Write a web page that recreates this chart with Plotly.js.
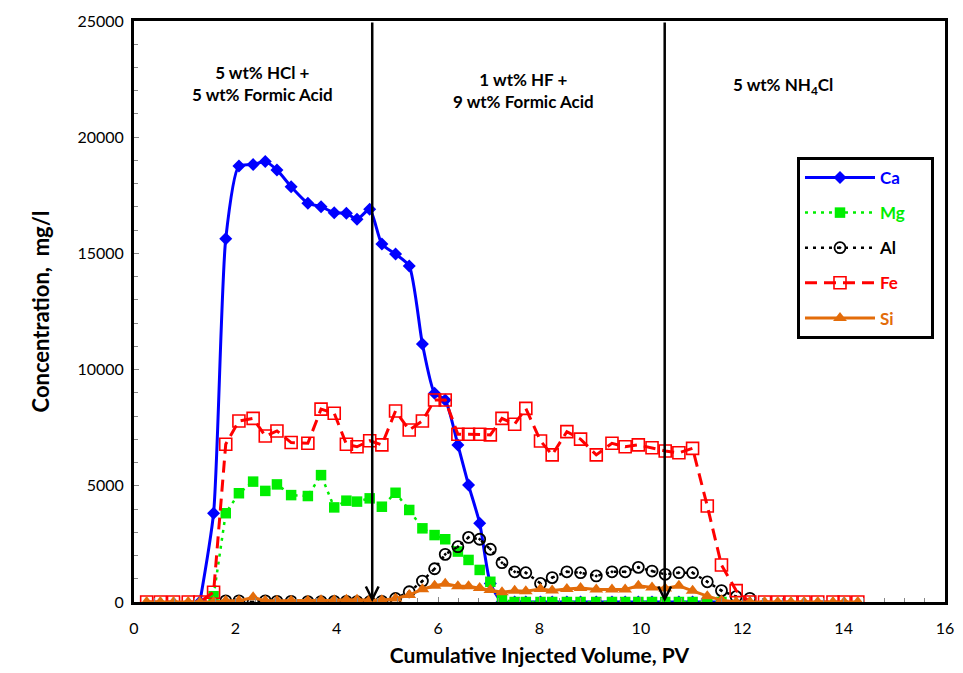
<!DOCTYPE html>
<html>
<head>
<meta charset="utf-8">
<script src="https://cdn.plot.ly/plotly-3.0.1.min.js"></script>
<style>
  html, body { margin: 0; padding: 0; background: #ffffff; }
  #chart { width: 963px; height: 673px; }
</style>
</head>
<body>
<div id="chart"></div>
<script>
// Cumulative injected volume (PV) at each sample
const pv = [0.25, 0.52, 0.78, 1.07, 1.3, 1.57, 1.81, 2.07, 2.35, 2.59, 2.82, 3.10, 3.43, 3.69, 3.95, 4.19, 4.40, 4.65, 4.89, 5.16, 5.43, 5.69, 5.93, 6.14, 6.39, 6.60, 6.82, 7.03, 7.26, 7.51, 7.73, 8.02, 8.25, 8.54, 8.81, 9.12, 9.43, 9.69, 9.95, 10.22, 10.48, 10.75, 11.02, 11.31, 11.59, 11.88, 12.15, 12.44, 12.70, 12.96, 13.22, 13.49, 13.79, 14.01, 14.28];

// Concentrations, mg/l
const ca = [null, null, null, null, 0, 3820, 15630, 18760, 18820, 18950, 18590, 17870, 17160, 17010, 16750, 16730, 16470, 16900, 15400, 14970, 14460, 11100, 8980, 8690, 6760, 5030, 3390, 800, 0, 0, 0, 0, 0, 0, 0, 0, 0, 0, 0, 0, 0, 0, 0, 0, 0, null, null, null, null, null, null, null, null, null, null];
const mg = [null, null, null, null, null, 250, 3820, 4680, 5180, 4780, 5060, 4600, 4560, 5460, 4070, 4360, 4320, 4460, 4100, 4700, 3960, 3170, 2880, 2700, 2170, 1810, 1380, 870, 100, 0, 0, 0, 0, 0, 0, 0, 0, 0, 0, 0, 0, 0, 0, 0, 0, null, null, null, null, null, null, null, null, null, null];
const al = [null, null, null, null, null, null, 50, 50, 0, 50, 30, 30, 20, 20, 30, 30, 20, 10, 30, 150, 440, 900, 1430, 2050, 2380, 2780, 2700, 2270, 1690, 1300, 1260, 800, 1050, 1300, 1260, 1120, 1300, 1300, 1490, 1330, 1190, 1260, 1260, 870, 490, 230, 160, null, null, null, null, null, null, null, null];
const fe = [0, 0, 0, 0, 0, 420, 6790, 7790, 7900, 7140, 7360, 6860, 6830, 8300, 8120, 6790, 6680, 6940, 6760, 8220, 7400, 7790, 8690, 8690, 7220, 7220, 7220, 7190, 7900, 7650, 8330, 6930, 6330, 7330, 7010, 6330, 6830, 6680, 6760, 6640, 6500, 6420, 6610, 4130, 1590, 490, 0, 0, 0, 0, 0, 0, 0, 0, 0];
const si = [0, 0, 0, 0, 0, 0, 50, 50, 200, 50, 50, 50, 50, 80, 80, 100, 100, 100, 80, 150, 300, 550, 700, 780, 680, 680, 600, 520, 420, 480, 460, 560, 500, 560, 600, 540, 540, 540, 700, 620, 580, 700, 480, 250, 80, 0, 0, 0, 0, 0, 0, 0, 0, 0, 0];

const seriesNames = ['Ca', 'Mg', 'Al', 'Fe', 'Si'];

// Injection stages and their boundaries (PV)
const stageLabels = ['5 wt% HCl +<br>5 wt% Formic Acid', '1 wt% HF +<br>9 wt% Formic Acid', '5 wt% NH<sub>4</sub>Cl'];
const stageBoundaries = [4.7, 10.47];

const xTicks = [0, 2, 4, 6, 8, 10, 12, 14, 16];
const yTicks = [0, 5000, 10000, 15000, 20000, 25000];

const colors = { Ca: '#0000FF', Mg: '#00EE00', Al: '#000000', Fe: '#FF0000', Si: '#E36C0A' };
const FONT = 'Lato, "Open Sans", sans-serif';

function legendName(n) {
  return '<span style="color:' + colors[n] + '">' + n + '</span>\u00a0\u00a0\u00a0\u00a0\u00a0';
}

const traces = [
  { x: pv, y: ca, name: legendName(seriesNames[0]), legendgroup: 'a', mode: 'lines+markers',
    line: { color: colors.Ca, width: 3, shape: 'spline', smoothing: 0.6 },
    marker: { symbol: 'diamond', size: 10, color: colors.Ca } },
  { x: pv, y: mg, name: legendName(seriesNames[1]), legendgroup: 'b', mode: 'lines+markers',
    line: { color: colors.Mg, width: 2.5, dash: '3px,5px' },
    marker: { symbol: 'square', size: 10.5, color: colors.Mg } },
  { x: pv, y: al, name: legendName(seriesNames[2]), legendgroup: 'c', mode: 'lines+markers',
    line: { color: colors.Al, width: 2.5, dash: '3px,5px' },
    marker: { symbol: 'circle-open-dot', size: 11, color: colors.Al, line: { width: 1.8, color: colors.Al } } },
  { x: pv, y: fe, name: legendName(seriesNames[3]), legendgroup: 'd', mode: 'lines+markers',
    line: { color: colors.Fe, width: 3, dash: '12px,7px' },
    marker: { symbol: 'square-open', size: 12, color: colors.Fe, line: { width: 1.6, color: colors.Fe } } },
  { x: pv, y: si, name: legendName(seriesNames[4]), legendgroup: 'e', mode: 'lines+markers',
    line: { color: colors.Si, width: 3 },
    marker: { symbol: 'triangle-up', size: 12, color: colors.Si } }
];

const annotations = [];
stageBoundaries.forEach(function (b) {
  annotations.push({
    x: b, y: 0, ax: b, ay: 25000, xref: 'x', yref: 'y', axref: 'x', ayref: 'y',
    text: '', showarrow: true, arrowhead: 5, arrowsize: 1, arrowwidth: 2.5, arrowcolor: '#000000', standoff: 0
  });
});
const stageX = [2.53, 7.69, 12.8];
const stageY = [22300, 22000, 22200];
stageLabels.forEach(function (t, i) {
  annotations.push({
    x: stageX[i], y: stageY[i], xref: 'x', yref: 'y', text: '<b>' + t + '</b>', showarrow: false,
    font: { family: FONT, size: 17, color: '#000000' }, align: 'center'
  });
});

const layout = {
  width: 963, height: 673,
  margin: { l: 134, r: 18, t: 21, b: 71 },
  paper_bgcolor: '#ffffff', plot_bgcolor: '#ffffff',
  font: { family: FONT, size: 16, color: '#000000' },
  showlegend: true,
  legend: {
    x: 0.8175, y: 0.766, xanchor: 'left', yanchor: 'top',
    bgcolor: '#ffffff', bordercolor: '#000000', borderwidth: 3,
    font: { family: FONT, size: 17, color: '#000000', weight: 'bold' },
    tracegroupgap: 10, traceorder: 'grouped', itemwidth: 70
  },
  xaxis: {
    range: [0, 16], tickvals: xTicks, ticktext: xTicks.map(String),
    showgrid: false, zeroline: false, showline: true, mirror: true, linecolor: '#000000', linewidth: 3,
    ticks: 'inside', ticklen: 5, tickcolor: '#888888', ticklabelstandoff: 10,
    minor: { dtick: 0.4, ticks: 'inside', ticklen: 4, tickcolor: '#888888' },
    tickfont: { family: FONT, size: 16 },
    title: { text: '<b>Cumulative Injected Volume, PV</b>', font: { family: FONT, size: 21 }, standoff: 13 }
  },
  yaxis: {
    range: [0, 25000], tickvals: yTicks, ticktext: yTicks.map(String),
    showgrid: false, zeroline: false, showline: true, mirror: true, linecolor: '#000000', linewidth: 3,
    ticks: 'inside', ticklen: 5, tickcolor: '#888888', ticklabelstandoff: 4,
    minor: { dtick: 1000, ticks: 'inside', ticklen: 4, tickcolor: '#888888' },
    tickfont: { family: FONT, size: 16 },
    title: { text: '<b>Concentration,  mg/l</b>', font: { family: FONT, size: 22 }, standoff: 22 }
  },
  annotations: annotations
};

Plotly.newPlot('chart', traces, layout, { displayModeBar: false, staticPlot: true });
</script>
</body>
</html>
